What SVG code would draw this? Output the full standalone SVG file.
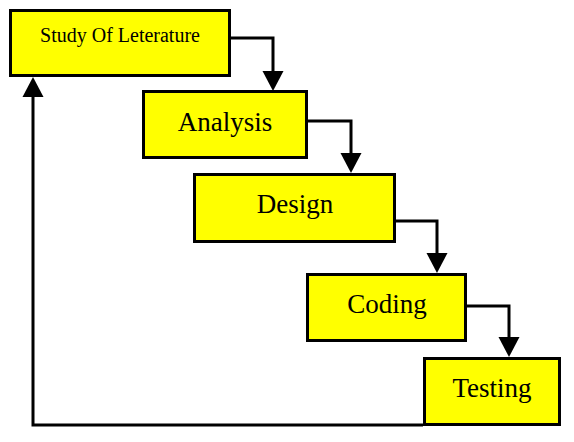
<svg xmlns="http://www.w3.org/2000/svg" width="574" height="442" viewBox="0 0 574 442">
<style>
.box{fill:#FFFF00;stroke:#000;stroke-width:3}
.lbl{font-family:"Liberation Serif","Times New Roman",serif;fill:#000;text-anchor:middle}
.conn{fill:none;stroke:#000;stroke-width:3;stroke-linejoin:miter}
</style>
<defs>
<marker id="arr" markerUnits="userSpaceOnUse" markerWidth="20" markerHeight="21" viewBox="0 0 20 21" refX="0" refY="10.5" orient="auto" overflow="visible">
<path d="M0,0 L20,10.5 L0,21 Z" fill="#000"/>
</marker>
</defs>
<rect width="574" height="442" fill="#fff"/>
<g id="connectors">
<path class="conn" d="M231,38 H273 V71" marker-end="url(#arr)"/>
<path class="conn" d="M308,121 H351 V153" marker-end="url(#arr)"/>
<path class="conn" d="M396,221 H437 V253" marker-end="url(#arr)"/>
<path class="conn" d="M467,306 H509 V337" marker-end="url(#arr)"/>
<path class="conn" d="M423,425 H33 V97" marker-end="url(#arr)"/>
</g>
<g id="study">
<rect class="box" x="10.5" y="10.5" width="219" height="65"/>
<text class="lbl" x="120" y="42" font-size="20">Study Of Leterature</text>
</g>
<g id="analysis">
<rect class="box" x="143.5" y="91.5" width="163" height="66"/>
<text class="lbl" x="225" y="131" font-size="27">Analysis</text>
</g>
<g id="design">
<rect class="box" x="194.5" y="174.5" width="200" height="67"/>
<text class="lbl" x="295" y="213" font-size="27">Design</text>
</g>
<g id="coding">
<rect class="box" x="307.5" y="274.5" width="158" height="66"/>
<text class="lbl" x="387" y="313" font-size="27">Coding</text>
</g>
<g id="testing">
<rect class="box" x="424.5" y="358.5" width="135" height="66"/>
<text class="lbl" x="492" y="397" font-size="27">Testing</text>
</g>
</svg>
